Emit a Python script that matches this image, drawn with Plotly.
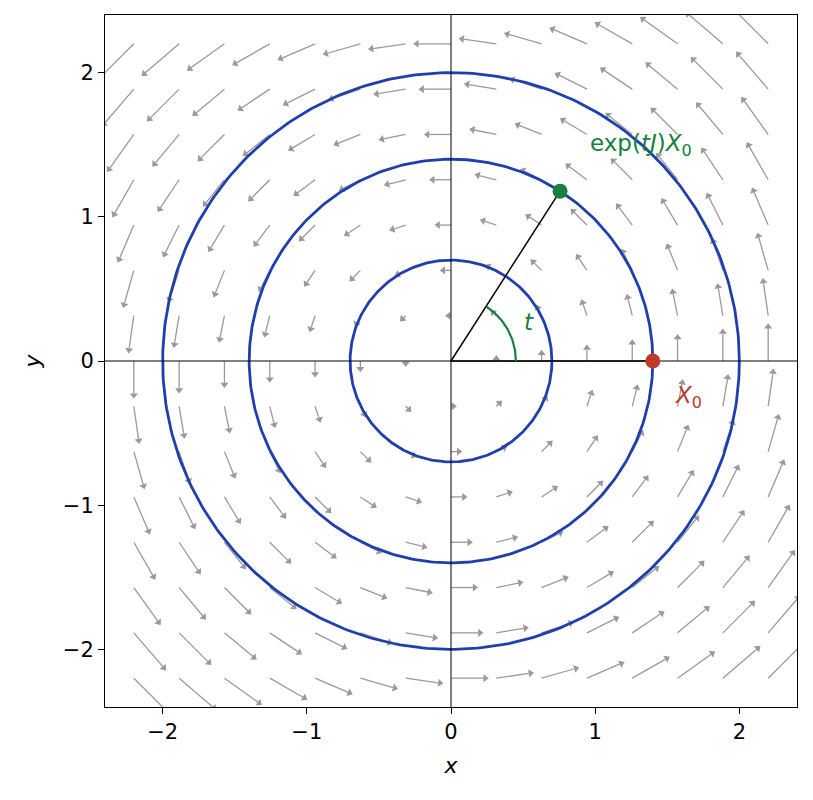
import numpy as np
import plotly.graph_objects as go

grid = np.linspace(-2.2, 2.2, 15)
radii = [0.7, 1.4, 2.0]
t_val = 1.0
x0 = [1.4, 0.0]
scale = 0.117

fig = go.Figure()
lx, ly, hx, hy, hang = [], [], [], [], []
for gx in grid:
    for gy in grid:
        u, v = -gy * scale, gx * scale
        m = np.hypot(u, v)
        if m < 1e-9:
            continue
        head = 0.05
        ex, ey = gx + u, gy + v
        bx, by = ex - u / m * min(head, m) * 0.6, ey - v / m * min(head, m) * 0.6
        lx += [gx, bx, None]
        ly += [gy, by, None]
        hx.append(ex - u / m * 0.02)
        hy.append(ey - v / m * 0.02)
        hang.append(90 - np.degrees(np.arctan2(v, u)))

fig.add_trace(go.Scatter(x=lx, y=ly, mode='lines', line=dict(color='#9a9a9a', width=1.3),
                         showlegend=False, hoverinfo='skip'))
fig.add_trace(go.Scatter(x=hx, y=hy, mode='markers', marker=dict(symbol='triangle-up', size=7, angle=hang,
                         color='#9a9a9a', line=dict(width=0)), showlegend=False, hoverinfo='skip'))

th = np.linspace(0, 2*np.pi, 400)
for r in radii:
    fig.add_trace(go.Scatter(x=r*np.cos(th), y=r*np.sin(th), mode='lines',
                             line=dict(color='#1f3fae', width=2.8), showlegend=False, hoverinfo='skip'))
fig.add_trace(go.Scatter(x=[-2.4, 2.4], y=[0, 0], mode='lines', line=dict(color='black', width=1), showlegend=False))
fig.add_trace(go.Scatter(x=[0, 0], y=[-2.4, 2.4], mode='lines', line=dict(color='black', width=1), showlegend=False))
px, py = x0[0]*np.cos(t_val), x0[0]*np.sin(t_val)
fig.add_trace(go.Scatter(x=[0, x0[0]], y=[0, x0[1]], mode='lines', line=dict(color='black', width=1.5), showlegend=False))
fig.add_trace(go.Scatter(x=[0, px], y=[0, py], mode='lines', line=dict(color='black', width=1.5), showlegend=False))
ta = np.linspace(0, t_val, 60)
fig.add_trace(go.Scatter(x=0.45*np.cos(ta), y=0.45*np.sin(ta), mode='lines', line=dict(color='#16803c', width=2.2), showlegend=False))
fig.add_trace(go.Scatter(x=[x0[0]], y=[x0[1]], mode='markers', marker=dict(color='#c0392b', size=15), showlegend=False))
fig.add_trace(go.Scatter(x=[px], y=[py], mode='markers', marker=dict(color='#16803c', size=15), showlegend=False))

ann = [
    dict(x=0.95, y=1.5, text='exp(<i>tJ</i>)<i>X</i><sub>0</sub>', showarrow=False, xanchor='left',
         font=dict(color='#16803c', size=23)),
    dict(x=0.54, y=0.27, text='<i>t</i>', showarrow=False, font=dict(color='#16803c', size=23)),
    dict(x=1.65, y=-0.25, text='<i>X</i><sub>0</sub>', showarrow=False, font=dict(color='#c0392b', size=23)),
]
fig.update_layout(annotations=ann)

ax = dict(range=[-2.4, 2.4], showgrid=False, zeroline=False, showline=True, mirror=True, linecolor='black',
          linewidth=1, ticks='outside', ticklen=6, tickcolor='black', tickvals=[-2, -1, 0, 1, 2],
          ticktext=['−2', '−1', '0', '1', '2'], tickfont=dict(size=21, color='black'))
fig.update_xaxes(**ax, title=dict(text='<i>x</i>', font=dict(size=22), standoff=14))
fig.update_yaxes(**ax, title=dict(text='<i>y</i>', font=dict(size=22), standoff=16), scaleanchor='x')
fig.update_layout(width=813, height=800, plot_bgcolor='white', paper_bgcolor='white',
                  margin=dict(l=97, r=24, t=7, b=101), font=dict(family='DejaVu Sans', color='black'))
fig.write_html('out.html')
